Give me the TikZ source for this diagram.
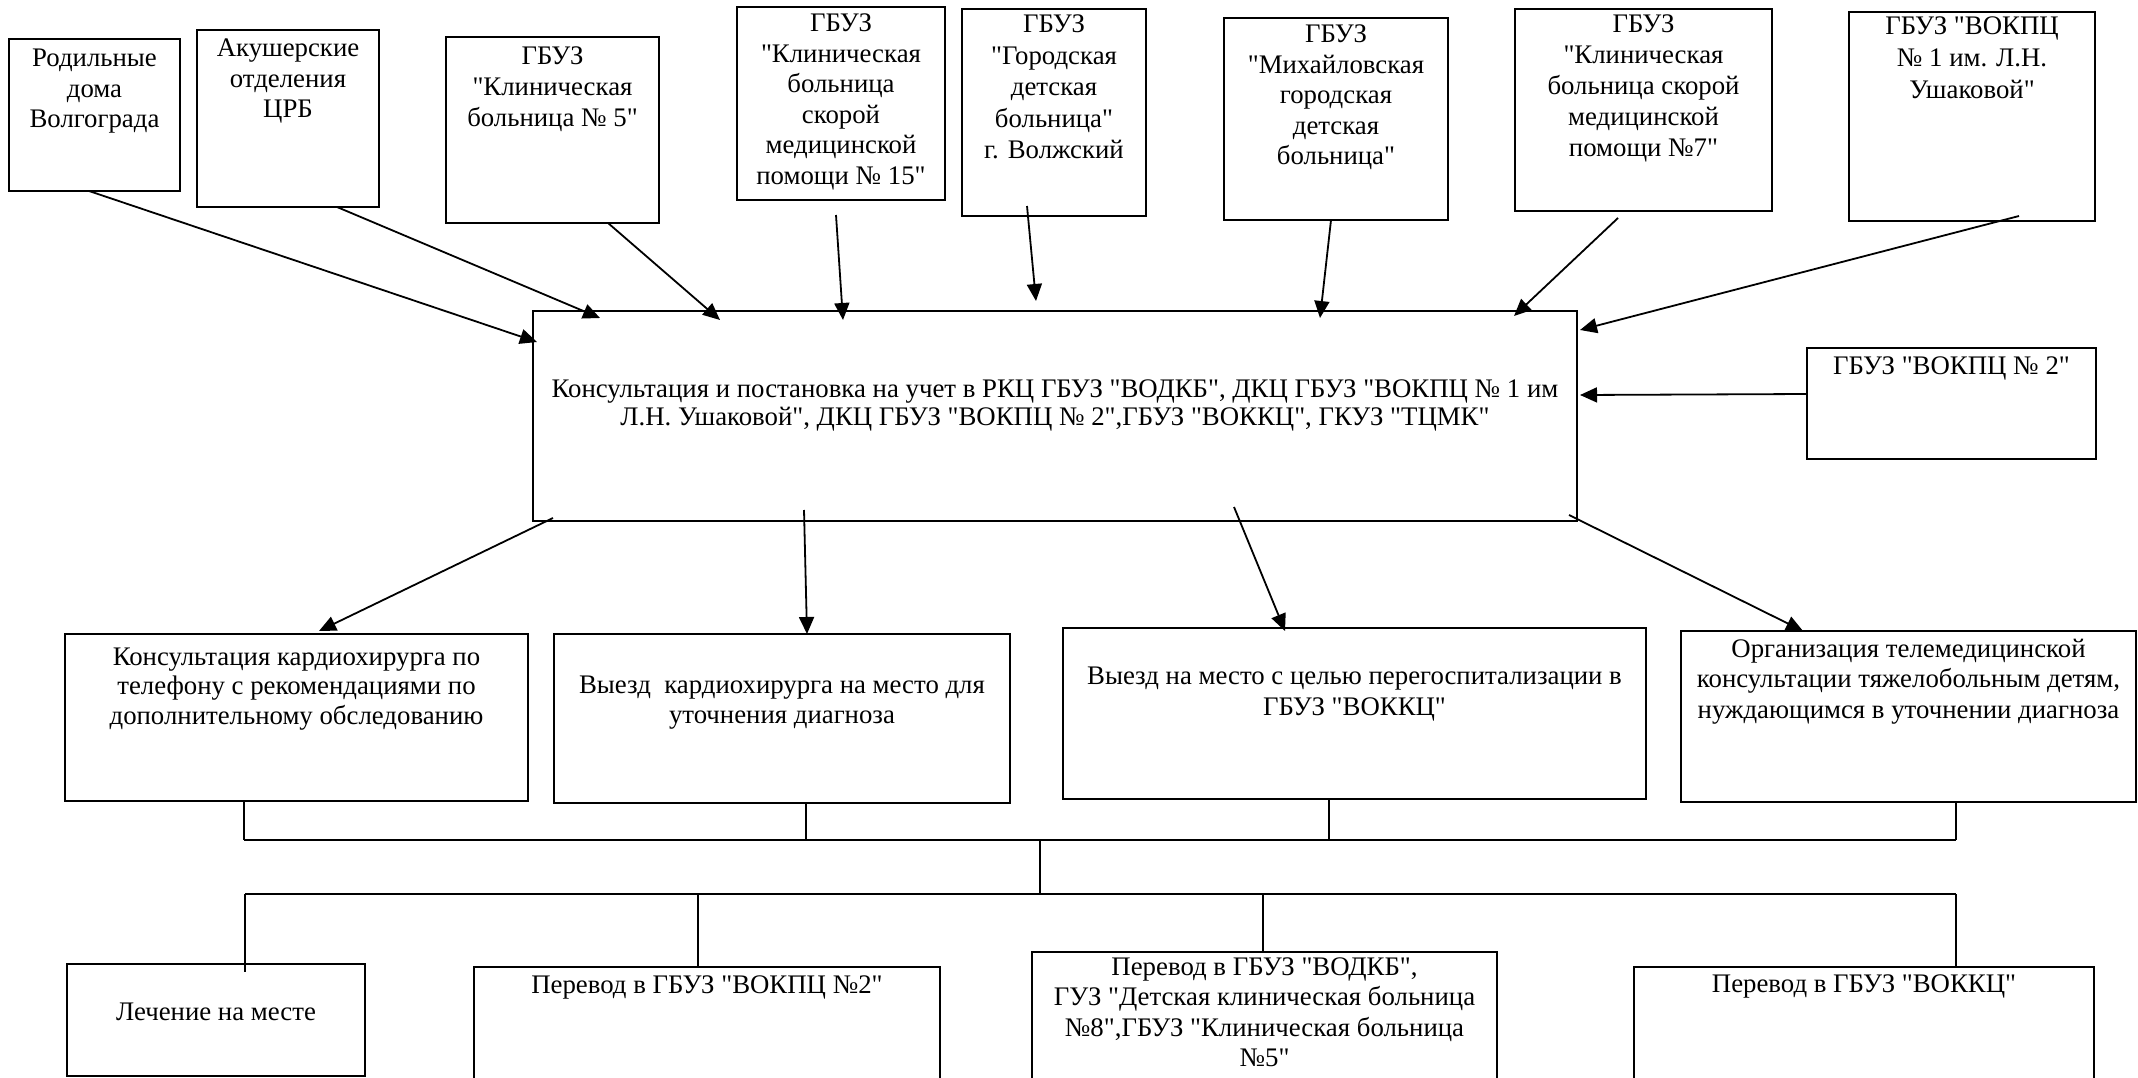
\documentclass[tikz,border=0pt]{standalone}
\usepackage{fontspec}
\setmainfont{Liberation Serif}[Ligatures=TeXReset]
\usetikzlibrary{arrows.meta,calc}
\newcommand{\tbx}[4]{\parbox[c][#2][t]{#1}{\centering\rule{0pt}{#3}#4\par}}
\begin{document}
\begin{tikzpicture}[x=1pt,y=-1pt,
  bx/.style={draw, line width=2pt, inner sep=0pt, outer sep=0pt, anchor=north west, font=\fontsize{26.8}{30.5}\selectfont},
  arr/.style={line width=1.8pt, -{Triangle[length=17pt,width=15pt]}},
  ln/.style={line width=1.6pt},
  bus/.style={line width=2.3pt}]
\path[use as bounding box, fill=white] (0,0) rectangle (2138,1078);

% top row
\node[bx] (t1) at (9,39) {\tbx{171pt}{152pt}{28pt}{Родильные\\дома\\Волгограда}};
\node[bx] (t2) at (197,30) {\tbx{182pt}{177pt}{27pt}{Акушерские\\отделения\\ЦРБ}};
\node[bx, font=\fontsize{26.8}{31}\selectfont] (t3) at (446,37) {\tbx{213pt}{186pt}{28pt}{ГБУЗ\\"Клиническая\\больница № 5"}};
\node[bx] (t4) at (737,7) {\tbx{208pt}{193pt}{25pt}{ГБУЗ\\"Клиническая\\больница\\скорой\\медицинской\\помощи № 15"}};
\node[bx, font=\fontsize{26.8}{31.5}\selectfont] (t5) at (962,9) {\tbx{184pt}{207pt}{24pt}{ГБУЗ\\"Городская\\детская\\больница"\\г. Волжский}};
\node[bx] (t6) at (1224,18) {\tbx{224pt}{202pt}{25pt}{ГБУЗ\\"Михайловская\\городская\\детская\\больница"}};
\node[bx, font=\fontsize{26.8}{31}\selectfont] (t7) at (1515,9) {\tbx{257pt}{202pt}{24pt}{ГБУЗ\\"Клиническая\\больница скорой\\медицинской\\помощи №7"}};
\node[bx, font=\fontsize{26.8}{32}\selectfont] (t8) at (1849,12) {\tbx{246pt}{209pt}{23pt}{ГБУЗ "ВОКПЦ\\№ 1 им. Л.Н.\\Ушаковой"}};
\node[bx] (t9) at (1807,348) {\tbx{289pt}{111pt}{26pt}{ГБУЗ "ВОКПЦ № 2"}};

% main box
\node[bx, font=\fontsize{26.8}{28.5}\selectfont] (main) at (533,311) {\tbx{1044pt}{210pt}{86pt}{Консультация и постановка на учет в РКЦ ГБУЗ "ВОДКБ", ДКЦ ГБУЗ "ВОКПЦ № 1 им\\Л.Н. Ушаковой", ДКЦ ГБУЗ "ВОКПЦ № 2",ГБУЗ "ВОККЦ", ГКУЗ "ТЦМК"}};

% middle row
\node[bx, font=\fontsize{26.8}{29.5}\selectfont] (A) at (65,634) {\tbx{463pt}{167pt}{31pt}{Консультация кардиохирурга по\\телефону с рекомендациями по\\дополнительному обследованию}};
\node[bx, font=\fontsize{26.8}{30}\selectfont] (B) at (554,634) {\tbx{456pt}{169pt}{59pt}{Выезд\ \ кардиохирурга на место для\\уточнения диагноза}};
\node[bx, font=\fontsize{26.8}{31}\selectfont] (C) at (1063,628) {\tbx{583pt}{171pt}{56pt}{Выезд на место с целью перегоспитализации в\\ГБУЗ "ВОККЦ"}};
\node[bx] (D) at (1681,631) {\tbx{455pt}{171pt}{26pt}{Организация телемедицинской\\консультации тяжелобольным детям,\\нуждающимся в уточнении диагноза}};

% bottom row
\node[bx] (E) at (67,964) {\tbx{298pt}{112pt}{56pt}{Лечение на месте}};
\node[bx] (F) at (474,967) {\tbx{466pt}{125pt}{26pt}{Перевод в ГБУЗ "ВОКПЦ №2"}};
\node[bx, font=\fontsize{26.8}{30.5}\selectfont] (G) at (1032,952) {\tbx{465pt}{140pt}{23pt}{Перевод в ГБУЗ "ВОДКБ",\\ГУЗ "Детская клиническая больница\\№8",ГБУЗ "Клиническая больница\\№5"}};
\node[bx] (H) at (1634,967) {\tbx{460pt}{125pt}{25pt}{Перевод в ГБУЗ "ВОККЦ"}};

% arrows into main
\draw[arr] ($(t1.south west)+(80,0)$) -- ($(main.north west)+(4,31)$);
\draw[arr] ($(t2.south west)+(140,0)$) -- ($(main.north west)+(67,7)$);
\draw[arr] ($(t3.south west)+(162,0)$) -- ($(main.north west)+(187,9)$);
\draw[arr] ($(t4.south west)+(99,15)$) -- ($(main.north west)+(310,9)$);
\draw[arr] ($(t5.south west)+(65,-10)$) -- ($(main.north west)+(503,-10)$);
\draw[arr] ($(t6.south west)+(107,0)$) -- ($(main.north west)+(787,7)$);
\draw[arr] ($(t7.south west)+(103,7)$) -- ($(main.north west)+(981,5)$);
\draw[arr] ($(t8.south west)+(170,-5)$) -- ($(main.north east)+(3,19)$);
\draw[arr] ($(t9.north west)+(0,46)$) -- ($(main.north east)+(3,84)$);

% arrows out of main
\draw[arr] ($(main.south west)+(20,-3)$) -- ($(A.north west)+(254,-3)$);
\draw[arr] ($(main.south west)+(271,-11)$) -- ($(B.north west)+(253,0)$);
\draw[arr] ($(main.south west)+(701,-14)$) -- ($(C.north west)+(222,3)$);
\draw[arr] ($(main.south east)+(-8,-6)$) -- ($(D.north west)+(122,0)$);

% upper bus
\coordinate (ua) at (244,840);
\coordinate (ub) at (806,840);
\coordinate (uc) at (1329,840);
\coordinate (ud) at (1956,840);
\coordinate (uj) at (1040,840);
\draw[ln] (A.south -| ua) -- (ua);
\draw[ln] (B.south -| ub) -- (ub);
\draw[ln] (C.south -| uc) -- (uc);
\draw[ln] (D.south -| ud) -- (ud);
\draw[bus] (ua) -- (ud);

% lower bus
\coordinate (le) at (245,894);
\coordinate (lf) at (698,894);
\coordinate (lg) at (1263,894);
\coordinate (lh) at (1956,894);
\coordinate (lj) at (1040,894);
\draw[ln] (uj) -- (lj);
\draw[bus] (le) -- (lh);
\draw[ln] (le) -- ($(E.north -| le)+(0,8)$);
\draw[ln] (lf) -- (F.north -| lf);
\draw[ln] (lg) -- (G.north -| lg);
\draw[ln] (lh) -- (H.north -| lh);
\end{tikzpicture}
\end{document}
